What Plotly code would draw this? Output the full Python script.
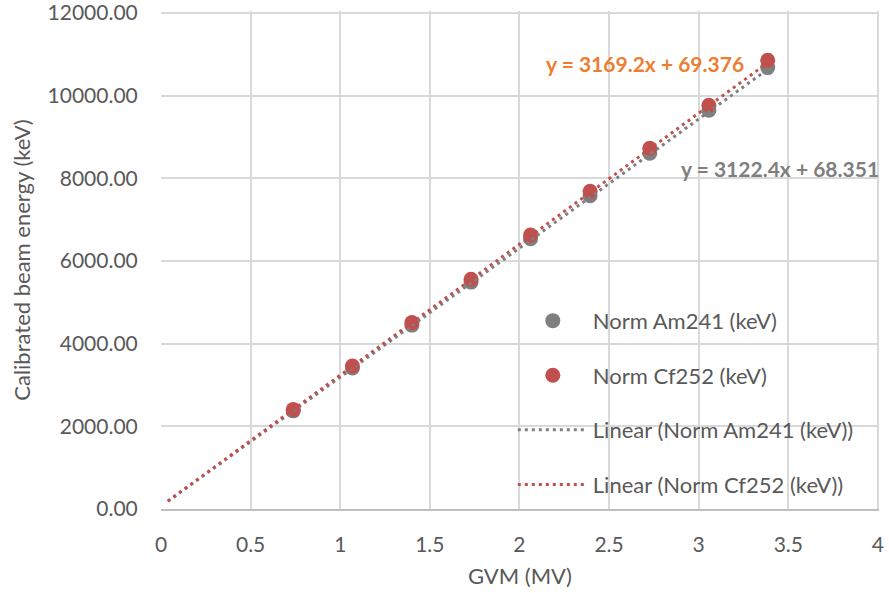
import plotly.graph_objects as go

# GVM terminal voltage readings (MV)
gvm = [0.738, 1.068, 1.400, 1.730, 2.062, 2.394, 2.727, 3.057, 3.385]
# Normalised calibrated beam energies (keV)
am241 = [2375, 3410, 4450, 5490, 6540, 7580, 8610, 9650, 10680]
cf252 = [2410, 3460, 4510, 5560, 6630, 7690, 8730, 9770, 10860]

# Linear trendline coefficients (slope, intercept)
am_fit = [3122.4, 68.351]
cf_fit = [3169.2, 69.376]
# Trendline span (backward forecast from the first reading)
fit_x = [0.038, 3.385]

# Axis tick positions
x_ticks = [0, 0.5, 1, 1.5, 2, 2.5, 3, 3.5, 4]
y_ticks = [0, 2000, 4000, 6000, 8000, 10000, 12000]

GRAY = "#7f7f7f"
RED = "#c0504d"
ORANGE = "#ed7d31"
TXT = "#595959"
FONT = "Lato"
FS = 21


def line_y(coef, xs):
    return [coef[0] * x + coef[1] for x in xs]


fig = go.Figure()
fig.add_trace(go.Scatter(
    x=gvm, y=am241, mode="markers", name="Norm Am241 (keV)",
    marker=dict(color=GRAY, size=15), legendgroup="a"))
fig.add_trace(go.Scatter(
    x=gvm, y=cf252, mode="markers", name="Norm Cf252 (keV)",
    marker=dict(color=RED, size=15), legendgroup="b"))
fig.add_trace(go.Scatter(
    x=fit_x, y=line_y(am_fit, fit_x), mode="lines",
    name="Linear (Norm Am241 (keV))",
    line=dict(color=GRAY, width=3, dash="3px,4px"), legendgroup="c"))
fig.add_trace(go.Scatter(
    x=fit_x, y=line_y(cf_fit, fit_x), mode="lines",
    name="Linear (Norm Cf252 (keV))",
    line=dict(color=RED, width=3, dash="3px,4px"), legendgroup="d"))

fig.add_annotation(
    x=2.135, y=10785, xanchor="left", yanchor="middle", showarrow=False,
    text="<b>y = %.1fx + %.3f</b>" % (cf_fit[0], cf_fit[1]),
    font=dict(color=ORANGE, size=FS, family=FONT))
fig.add_annotation(
    x=2.89, y=8250, xanchor="left", yanchor="middle", showarrow=False,
    text="<b>y = %.1fx + %.3f</b>" % (am_fit[0], am_fit[1]),
    font=dict(color=GRAY, size=FS, family=FONT))

fig.update_layout(
    width=889, height=593,
    margin=dict(l=161, r=10, t=11, b=84),
    paper_bgcolor="white", plot_bgcolor="white",
    font=dict(family=FONT, size=FS, color=TXT),
    showlegend=True,
    legend=dict(
        x=0.49, y=0.42, xanchor="left", yanchor="top",
        bgcolor="rgba(0,0,0,0)", tracegroupgap=23,
        font=dict(size=22, color=TXT), itemwidth=70),
    xaxis=dict(
        range=[0, 4.006], tickvals=x_ticks,
        ticktext=[f"{v:g}" for v in x_ticks],
        automargin=False, ticklabeloverflow="allow",
        showgrid=True, gridcolor="#d9d9d9", gridwidth=1.5,
        showline=True, linecolor="#bfbfbf", linewidth=1.5,
        zeroline=False, mirror=False,
        ticks="outside", ticklen=16, tickcolor="rgba(0,0,0,0)",
        title=dict(text="GVM (MV)", standoff=14,
                   font=dict(size=22, color=TXT))),
    yaxis=dict(
        range=[0, 12050], tickvals=y_ticks,
        ticktext=[f"{v:.2f}" for v in y_ticks],
        automargin=False, ticklabeloverflow="allow",
        showgrid=True, gridcolor="#d9d9d9", gridwidth=1.5,
        showline=False, zeroline=False,
        ticks="outside", ticklen=18, tickcolor="rgba(0,0,0,0)",
        title=dict(text="Calibrated beam energy (keV)", standoff=10,
                   font=dict(size=22, color=TXT))),
)

fig.write_html("out.html")
